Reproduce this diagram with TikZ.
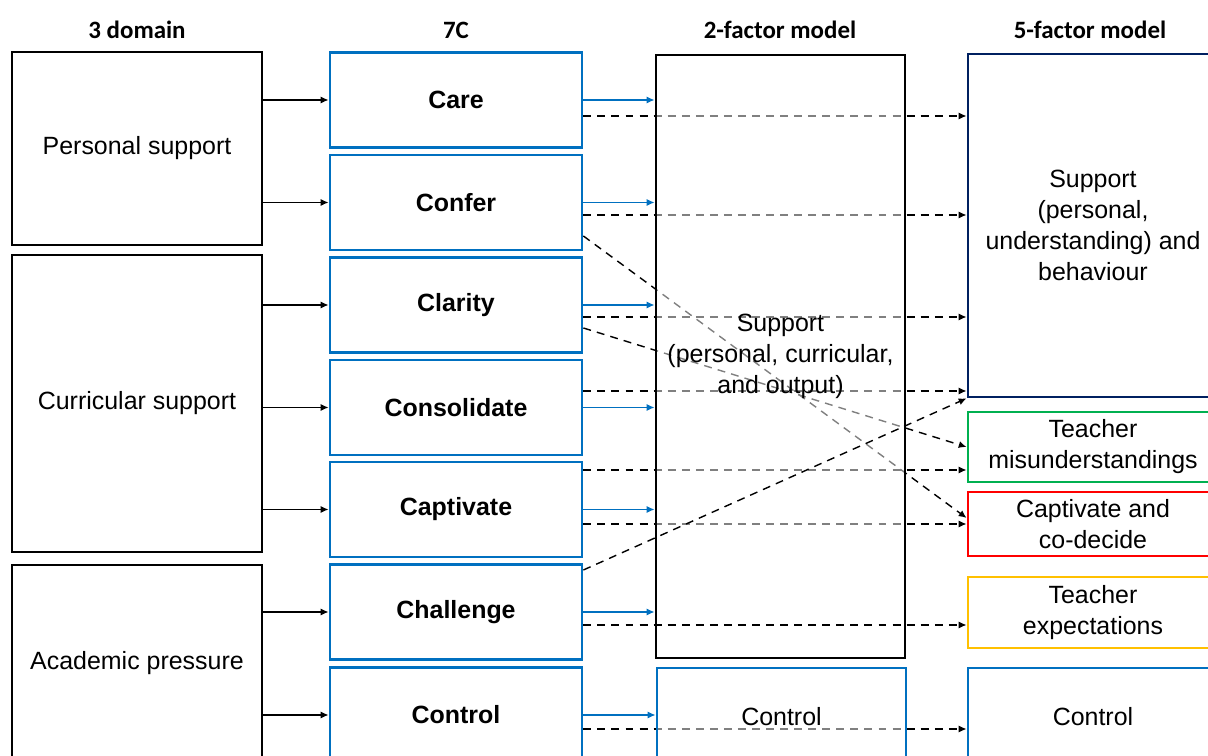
\documentclass[tikz,border=0pt]{standalone}
\usepackage{fontspec}
\setmainfont{Liberation Sans}
\newfontfamily\headfont{Carlito}
\usepackage{tikz}
\usetikzlibrary{arrows.meta,calc,backgrounds}

\definecolor{cblue}{RGB}{0,112,192}
\definecolor{cnavy}{RGB}{0,32,96}
\definecolor{cgreen}{RGB}{0,176,80}
\definecolor{cred}{RGB}{255,0,0}
\definecolor{cyellow}{RGB}{255,192,0}

\tikzset{
  head/.style={font=\headfont\bfseries\fontsize{14.2}{17}\selectfont},
  dom/.style={draw=black, line width=1.6pt, minimum width=5cm, align=center,
    font=\fontsize{14.2}{17.6}\selectfont},
  sevenc/.style={draw=cblue, line width=1.6pt, minimum width=5.04cm, minimum height=1.9cm,
    font=\bfseries\fontsize{14.2}{17.6}\selectfont},
  fac/.style={line width=1.6pt, minimum width=5cm, align=center,
    font=\fontsize{14.2}{17.6}\selectfont},
  link/.style={-{Latex[length=4.5pt,width=4pt]}, line width=0.8pt},
  blink/.style={link, draw=cblue},
  dlink/.style={link, dash pattern=on 4.5pt off 3.5pt}
}

\begin{document}
\begin{tikzpicture}[x=0.02cm, y=-0.02cm]
\useasboundingbox (0,0) rectangle (1208,756);
\clip (0,0) rectangle (1208,756);

% column heads
\node[head] (h1) at (137,30) {3 domain};
\node[head] (h2) at (456,30) {7C};
\node[head] (h3) at (780,30) {2-factor model};
\node[head] (h4) at (1090,30) {5-factor model};

% 3 domains
\node[dom, minimum height=3.86cm] (pers) at (137,148.5) {Personal support};
\node[dom, minimum height=5.94cm] (curr) at (137,403.5) {Curricular support};
\node[dom, minimum height=3.92cm] (acad) at (137,663) {Academic pressure};

% 7C
\node[sevenc] (care) at (456,100) {Care};
\node[sevenc] (confer) at (456,202.5) {Confer};
\node[sevenc] (clarity) at (456,305) {Clarity};
\node[sevenc] (consol) at (456,407.5) {Consolidate};
\node[sevenc] (captiv) at (456,509.5) {Captivate};
\node[sevenc] (chall) at (456,612) {Challenge};
\node[sevenc] (contr) at (456,715) {Control};

% 2-factor model (half see-through, the dashes behind show grey)
\node[fac, draw=black, fill=white, fill opacity=.5, text opacity=1,
  minimum width=4.98cm, minimum height=12.06cm] (sup2) at (780.5,356.5)
  {Support\\(personal, curricular,\\and output)};
\node[fac, draw=cblue, fill=white, fill opacity=.5, text opacity=1,
  minimum width=4.98cm, minimum height=1.96cm] (con2) at (781.5,717) {Control};

% 5-factor model
\node[fac, draw=cnavy, minimum height=6.86cm] (sup5) at (1093,225.5)
  {Support\\(personal,\\understanding) and\\behaviour};
\node[fac, draw=cgreen, minimum height=1.4cm] (mis5) at (1093,447) {Teacher\\misunderstandings};
\node[fac, draw=cred, minimum height=1.28cm] (cod5) at (1093,524) {Captivate and\\co-decide};
\node[fac, draw=cyellow, minimum height=1.42cm] (exp5) at (1093,612.5) {Teacher\\expectations};
\node[fac, draw=cblue, minimum height=1.96cm] (con5) at (1093,717) {Control};

% domain -> 7C
\draw[link] (pers.east |- care.west) -- (care.west);
\draw[link] (pers.east |- confer.west) -- (confer.west);
\draw[link] (curr.east |- clarity.west) -- (clarity.west);
\draw[link] (curr.east |- consol.west) -- (consol.west);
\draw[link] (curr.east |- captiv.west) -- (captiv.west);
\draw[link] (acad.east |- chall.west) -- (chall.west);
\draw[link] (acad.east |- contr.west) -- (contr.west);

% 7C -> 2-factor
\draw[blink] (care.east) -- (care.east -| sup2.west);
\draw[blink] (confer.east) -- (confer.east -| sup2.west);
\draw[blink] (clarity.east) -- (clarity.east -| sup2.west);
\draw[blink] (consol.east) -- (consol.east -| sup2.west);
\draw[blink] (captiv.east) -- (captiv.east -| sup2.west);
\draw[blink] (chall.east) -- (chall.east -| sup2.west);
\draw[blink] (contr.east) -- (contr.east -| con2.west);

% 7C -> 5-factor, behind the 2-factor boxes
\begin{pgfonlayer}{background}
\draw[dlink] ($(care.east)+(0,16)$) -- ($(care.east -| sup5.west)+(0,16)$);
\draw[dlink] ($(confer.east)+(0,12.5)$) -- ($(confer.east -| sup5.west)+(0,12.5)$);
\draw[dlink] ($(clarity.east)+(0,12)$) -- ($(clarity.east -| sup5.west)+(0,12)$);
\draw[dlink] ($(consol.east)+(0,-16.5)$) -- ($(consol.east -| sup5.west)+(0,-16.5)$);
\draw[dlink] ($(captiv.east)+(0,-39.5)$) -- ($(captiv.east -| mis5.west)+(0,-39.5)$);
\draw[dlink] ($(captiv.east)+(0,14.5)$) -- ($(captiv.east -| cod5.west)+(0,14.5)$);
\draw[dlink] ($(contr.east)+(0,14)$) -- ($(contr.east -| con5.west)+(0,14)$);
\draw[dlink] ($(confer.east)+(0,33.5)$) -- ($(cod5.west)+(0,-6)$);
\draw[dlink] ($(clarity.east)+(0,23)$) -- (mis5.west);
\end{pgfonlayer}

% challenge lines lie on top
\draw[dlink] ($(chall.east)+(0,13)$) -- ($(chall.east -| exp5.west)+(0,13)$);
\draw[dlink] ($(chall.east)+(0,-42)$) -- (sup5.south west);

\end{tikzpicture}
\end{document}
